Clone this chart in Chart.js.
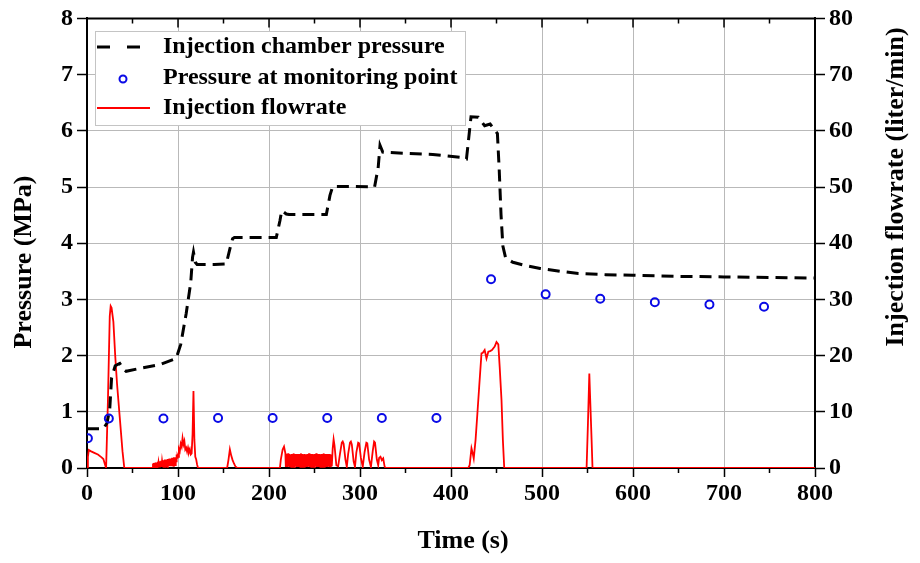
<!DOCTYPE html>
<html>
<head>
<meta charset="utf-8">
<script src="https://cdn.jsdelivr.net/npm/chart.js@4.4.1/dist/chart.umd.min.js"></script>
<style>
  html, body { margin: 0; padding: 0; background: #fff; }
  #wrap { width: 920px; height: 563px; }
</style>
</head>
<body>
<div id="wrap"><canvas id="chart" width="920" height="563"></canvas></div>
<script>
// injection chamber pressure (MPa) vs time (s)
const chamberTime = [0, 18, 22, 25, 27, 31, 36, 40, 43, 60, 80, 98, 103, 109, 114, 116, 117, 119, 121, 140, 153, 157, 160, 162, 185, 208, 212, 214, 219, 222, 263, 267, 270, 290, 316, 320, 322, 325, 350, 380, 410, 417, 420, 422, 430, 437, 443, 451, 453, 455, 457, 460, 468, 480, 498, 520, 540, 570, 600, 650, 700, 750, 800]
const chamberPressure = [0.70, 0.70, 0.80, 1.05, 1.60, 1.82, 1.86, 1.76, 1.72, 1.78, 1.84, 1.95, 2.20, 2.75, 3.30, 3.75, 3.84, 3.66, 3.62, 3.62, 3.63, 3.90, 4.08, 4.10, 4.10, 4.10, 4.40, 4.58, 4.52, 4.51, 4.51, 4.85, 5.01, 5.01, 5.00, 5.35, 5.74, 5.62, 5.60, 5.58, 5.53, 5.50, 5.95, 6.25, 6.24, 6.09, 6.12, 5.95, 5.30, 4.50, 3.95, 3.74, 3.66, 3.61, 3.55, 3.50, 3.46, 3.44, 3.43, 3.41, 3.40, 3.39, 3.38]

// pressure at monitoring point (MPa)
const monitorTime = [1, 24, 84, 144, 204, 264, 324, 384, 444, 504, 564, 624, 684, 744]
const monitorPressure = [0.53, 0.88, 0.88, 0.89, 0.89, 0.89, 0.89, 0.89, 3.36, 3.09, 3.01, 2.95, 2.91, 2.87]

// injection flowrate (liter/min)
const flowTime = [
  0, 1, 2, 4, 8, 12, 16, 18, 20, 21, 23, 25, 26, 27, 29, 31, 33, 36, 39, 41,
  72, 72.5, 73, 73.5, 74, 74.5, 75, 75.5, 76, 76.5, 77,
  77.5, 78, 78.5, 79, 79.5, 80, 80.5, 81, 81.5, 82,
  82.5, 83, 83.5, 84, 84.5, 85, 85.5, 86, 86.5, 87,
  87.5, 88, 88.5, 89, 89.5, 90, 90.5, 91, 91.5, 92,
  92.5, 93, 93.5, 94, 94.5, 95, 95.5, 96, 96.5, 97,
  97.5, 98, 98.5, 99, 99.5, 100,
  101, 102, 103, 104, 105, 106, 107, 108, 109, 110, 111, 112, 113, 114, 115, 116, 117, 118, 119, 120, 121, 122,
  154, 155.5, 157, 158.5, 160, 161.5, 163, 165,
  212, 213, 215, 216.5, 218,
  218.5, 219, 219.5, 220, 220.5, 221, 221.5, 222, 222.5, 223,
  223.5, 224, 224.5, 225, 225.5, 226, 226.5, 227, 227.5, 228,
  228.5, 229, 229.5, 230, 230.5, 231, 231.5, 232, 232.5, 233,
  233.5, 234, 234.5, 235, 235.5, 236, 236.5, 237, 237.5, 238,
  238.5, 239, 239.5, 240, 240.5, 241, 241.5, 242, 242.5, 243,
  243.5, 244, 244.5, 245, 245.5, 246, 246.5, 247, 247.5, 248,
  248.5, 249, 249.5, 250, 250.5, 251, 251.5, 252, 252.5, 253,
  253.5, 254, 254.5, 255, 255.5, 256, 256.5, 257, 257.5, 258,
  258.5, 259, 259.5, 260, 260.5, 261, 261.5, 262, 262.5, 263,
  263.5, 264, 264.5, 265, 265.5, 266, 266.5, 267, 267.5, 268,
  269, 270, 271, 272, 274, 276, 278, 280, 281, 282, 284, 285.5, 287, 289, 290, 291,
  293, 294.5, 296, 298, 299, 301, 303, 305, 307, 308, 310, 312, 314, 315.5, 316.5, 318.5, 320, 321, 322.5, 324, 325.5, 327, 328,
  419, 420.5, 422.5, 424, 425, 427, 429, 431, 433.5, 435, 437, 439, 441, 443, 445, 448, 450, 452, 453.5, 455.5, 457, 458.5,
  549, 550.5, 552, 553, 554.5, 555.5, 800
]
const flowRate = [
  0, 2.0, 3.2, 3.0, 2.7, 2.4, 1.9, 1.6, 0.5, 0, 12, 27, 28.8, 28.5, 26, 20, 15, 9, 3, 0,
  0, 0.8, 0.1, 0.9, 0.2, 0.8, 0.1, 1.0, 0.2, 0.9, 0.1,
  1.1, 0.2, 1.0, 0.2, 1.2, 0.1, 1.1, 0.2, 1.3, 0.2,
  1.2, 0.3, 1.4, 0.2, 1.3, 0.3, 1.5, 0.2, 1.4, 0.3,
  1.5, 0.3, 1.6, 0.2, 1.5, 0.3, 1.7, 0.3, 1.6, 0.4,
  1.7, 0.3, 1.8, 0.4, 1.7, 0.4, 1.9, 0.5, 1.8, 0.5,
  1.9, 1.2, 2.4, 1.8, 2.2, 2.0,
  3.4, 3.0, 4.3, 3.8, 5.3, 4.2, 4.8, 3.3, 3.6, 2.9, 3.6, 2.8, 3.3, 2.4, 2.6, 6.0, 13.7, 5.0, 2.0, 1.5, 0.6, 0,
  0, 1.5, 3.3, 2.2, 1.4, 0.8, 0.3, 0,
  0, 1.5, 3.3, 3.8, 2.6,
  0.2, 2.5, 0.3, 2.4, 0.2, 2.6, 0.3, 2.4, 0.2, 2.5,
  0.3, 2.3, 0.2, 2.5, 0.3, 2.4, 0.2, 2.6, 0.3, 2.4,
  0.2, 2.5, 0.3, 2.3, 0.2, 2.5, 0.3, 2.4, 0.2, 2.5,
  0.3, 2.4, 0.2, 2.6, 0.3, 2.3, 0.2, 2.5, 0.3, 2.4,
  0.2, 2.5, 0.3, 2.4, 0.2, 2.3, 0.3, 2.5, 0.2, 2.4,
  0.3, 2.6, 0.2, 2.4, 0.3, 2.5, 0.2, 2.3, 0.3, 2.5,
  0.2, 2.4, 0.3, 2.5, 0.2, 2.4, 0.3, 2.6, 0.2, 2.4,
  0.3, 2.5, 0.2, 2.3, 0.3, 2.5, 0.2, 2.4, 0.3, 2.5,
  0.2, 2.4, 0.3, 2.6, 0.2, 2.4, 0.3, 2.5, 0.2, 2.3,
  0.3, 2.5, 0.2, 2.4, 0.3, 2.5, 0.2, 2.4, 0.3, 2.4,
  0.3, 3.5, 5.1, 4.0, 0.5, 0.3, 2.5, 4.5, 4.7, 4.3, 1.5, 0.2, 2.5, 4.5, 4.7, 4.2,
  1.2, 0.2, 2.8, 4.5, 4.4, 1.8, 0.2, 2.8, 4.5, 4.4, 1.5, 0.2, 3.0, 4.7, 4.5, 1.5, 0.5, 1.8, 2.0, 1.4, 1.7, 0.3, 0,
  0, 0.5, 3.5, 2.5, 1.7, 5.0, 9.7, 14.5, 20.4, 20.5, 21.0, 19.5, 20.7, 20.8, 21.0, 21.6, 22.4, 22.0, 18.0, 12.1, 5.0, 0,
  0, 8.0, 16.8, 12.0, 5.0, 0, 0
]

const timeMin = 0
const timeMax = 800
const pressureMax = 8
const flowMax = 80
const minorTimeTicks = [50, 150, 250, 350, 450, 550, 650, 750]

const xTitle = "Time (s)"
const yTitle = "Pressure (MPa)"
const y2Title = "Injection flowrate (liter/min)"
const legendLabels = ["Injection chamber pressure", "Pressure at monitoring point", "Injection flowrate"]

const FONT = "'Liberation Serif', 'Times New Roman', serif"
const GRID = "#b9b9b9"

const toPoints = (xs, ys) => xs.map((x, i) => ({ x: x, y: ys[i] }))

// top axis line with inward ticks, plus minor ticks on the bottom axis
const frameTicks = {
  id: "frameTicks",
  afterDraw(chart) {
    const ctx = chart.ctx
    const area = chart.chartArea
    const xs = chart.scales.x
    ctx.save()
    ctx.strokeStyle = "#000"
    ctx.lineWidth = 2
    ctx.beginPath()
    ctx.moveTo(area.left - 1, area.top)
    ctx.lineTo(area.right + 1, area.top)
    ctx.stroke()
    ctx.lineWidth = 1.5
    for (let t = timeMin; t <= timeMax; t += 100) {
      const px = xs.getPixelForValue(t)
      ctx.beginPath()
      ctx.moveTo(px, area.top)
      ctx.lineTo(px, area.top + 9)
      ctx.stroke()
    }
    minorTimeTicks.forEach((t) => {
      const px = xs.getPixelForValue(t)
      ctx.beginPath()
      ctx.moveTo(px, area.top)
      ctx.lineTo(px, area.top + 5)
      ctx.moveTo(px, area.bottom)
      ctx.lineTo(px, area.bottom + 5)
      ctx.stroke()
    })
    ctx.restore()
  },
}

const titles = {
  id: "titles",
  afterDraw(chart) {
    const ctx = chart.ctx
    ctx.save()
    ctx.fillStyle = "#000"
    ctx.textAlign = "center"
    ctx.textBaseline = "middle"
    ctx.font = "bold 26px " + FONT
    ctx.fillText(xTitle, 463, 541)

    ctx.translate(24, 262)
    ctx.rotate(-Math.PI / 2)
    ctx.fillText(yTitle, 0, 0)
    ctx.restore()

    ctx.save()
    ctx.fillStyle = "#000"
    ctx.textAlign = "center"
    ctx.textBaseline = "middle"
    ctx.font = "bold 26px " + FONT
    ctx.translate(896, 187)
    ctx.rotate(-Math.PI / 2)
    ctx.fillText(y2Title, 0, 0)
    ctx.restore()
  },
}

const boxLegend = {
  id: "boxLegend",
  afterDatasetsDraw(chart) {
    const ctx = chart.ctx
    ctx.save()
    ctx.fillStyle = "#fff"
    ctx.fillRect(95, 31, 370, 94)
    ctx.strokeStyle = "#c4c4c4"
    ctx.lineWidth = 1
    ctx.strokeRect(95.5, 31.5, 370, 94)

    ctx.strokeStyle = "#000"
    ctx.lineWidth = 3
    ctx.setLineDash([13, 17])
    ctx.beginPath()
    ctx.moveTo(97, 47)
    ctx.lineTo(145, 47)
    ctx.stroke()
    ctx.setLineDash([])

    ctx.strokeStyle = "#0a0ae6"
    ctx.lineWidth = 2
    ctx.beginPath()
    ctx.arc(123, 79, 3.5, 0, Math.PI * 2)
    ctx.stroke()

    ctx.strokeStyle = "#ff0000"
    ctx.lineWidth = 2
    ctx.beginPath()
    ctx.moveTo(97, 108)
    ctx.lineTo(150, 108)
    ctx.stroke()

    ctx.fillStyle = "#000"
    ctx.textAlign = "left"
    ctx.textBaseline = "middle"
    ctx.font = "bold 24px " + FONT
    ctx.fillText(legendLabels[0], 163, 47)
    ctx.fillText(legendLabels[1], 163, 78)
    ctx.fillText(legendLabels[2], 163, 108)
    ctx.restore()
  },
}

const tickFont = { family: FONT, size: 24, weight: "bold" }

new Chart(document.getElementById("chart"), {
  type: "line",
  data: {
    datasets: [
      {
        label: legendLabels[0],
        data: toPoints(chamberTime, chamberPressure),
        yAxisID: "y",
        borderColor: "#000",
        borderWidth: 3,
        borderDash: [12, 7],
        pointRadius: 0,
        tension: 0,
        fill: false,
        order: 2,
      },
      {
        label: legendLabels[1],
        data: toPoints(monitorTime, monitorPressure),
        yAxisID: "y",
        showLine: false,
        pointStyle: "circle",
        pointRadius: 4,
        pointBorderWidth: 2,
        pointBorderColor: "#0a0ae6",
        pointBackgroundColor: "rgba(0,0,0,0)",
        order: 1,
      },
      {
        label: legendLabels[2],
        data: toPoints(flowTime, flowRate),
        yAxisID: "y2",
        borderColor: "#ff0000",
        borderWidth: 1.8,
        pointRadius: 0,
        tension: 0,
        fill: false,
        order: 3,
      },
    ],
  },
  options: {
    responsive: false,
    animation: false,
    devicePixelRatio: 1,
    layout: { padding: { top: 17, left: 0, right: 0, bottom: 0 } },
    plugins: {
      legend: { display: false },
      tooltip: { enabled: false },
    },
    scales: {
      x: {
        type: "linear",
        min: timeMin,
        max: timeMax,
        ticks: { stepSize: 100, color: "#000", font: tickFont, padding: 2, maxRotation: 0 },
        grid: { color: GRID, lineWidth: 1, tickColor: "#000", tickLength: 9, tickWidth: 1.5 },
        border: { color: "#000", width: 2 },
        afterFit: (scale) => { scale.height = 95 },
      },
      y: {
        position: "left",
        min: 0,
        max: pressureMax,
        ticks: { stepSize: 1, color: "#000", font: tickFont, padding: 4 },
        grid: { color: GRID, lineWidth: 1, tickColor: "#000", tickLength: 10, tickWidth: 1.5 },
        border: { color: "#000", width: 2 },
        afterFit: (scale) => { scale.width = 87 },
      },
      y2: {
        position: "right",
        min: 0,
        max: flowMax,
        ticks: { stepSize: 10, color: "#000", font: tickFont, padding: 4 },
        grid: { drawOnChartArea: false, tickColor: "#000", tickLength: 10, tickWidth: 1.5 },
        border: { color: "#000", width: 2 },
        afterFit: (scale) => { scale.width = 105 },
      },
    },
  },
  plugins: [boxLegend, frameTicks, titles],
})
</script>
</body>
</html>
